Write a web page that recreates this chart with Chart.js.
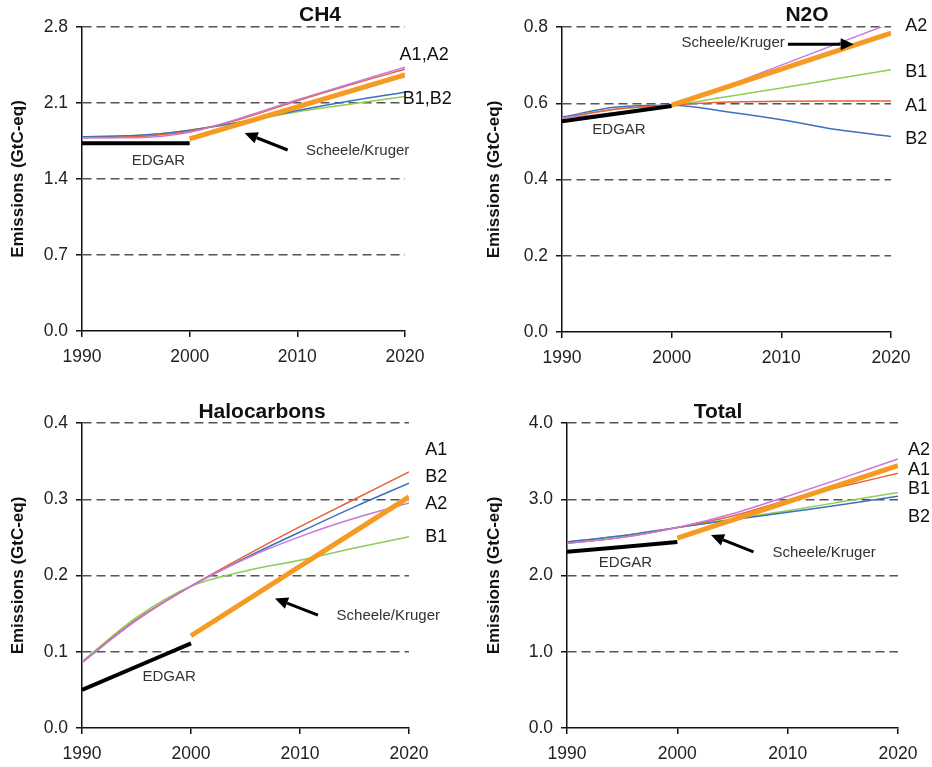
<!DOCTYPE html>
<html>
<head>
<meta charset="utf-8">
<script src="https://cdn.jsdelivr.net/npm/chart.js@4/dist/chart.umd.min.js"></script>
<style>
  body { margin: 0; background: #fff; }
  #wrap { position: relative; width: 932px; height: 767px; }
  canvas { position: absolute; }
</style>
</head>
<body>
<div id="wrap">
  <canvas id="ch4" width="466" height="380" style="left:0;top:0"></canvas>
  <canvas id="n2o" width="466" height="380" style="left:466px;top:0"></canvas>
  <canvas id="halo" width="466" height="387" style="left:0;top:380px"></canvas>
  <canvas id="total" width="466" height="387" style="left:466px;top:380px"></canvas>
</div>
<script>
// years shared by the scenario curves
const years = [1990, 1995, 2000, 2005, 2010, 2015, 2020];
const edgarYears = [1990, 2000];
const scheeleYears = [2000, 2020];
const xTicks = [1990, 2000, 2010, 2020];

// CH4
const ch4Ticks = [0, 0.7, 1.4, 2.1, 2.8];
const ch4A1 = [1.78, 1.79, 1.84, 1.96, 2.12, 2.27, 2.41];
const ch4A2 = [1.78, 1.78, 1.83, 1.97, 2.13, 2.28, 2.43];
const ch4B1 = [1.79, 1.80, 1.85, 1.93, 2.02, 2.09, 2.16];
const ch4B2 = [1.79, 1.80, 1.85, 1.93, 2.03, 2.12, 2.20];
const ch4Edgar = [1.73, 1.73];
const ch4Scheele = [1.77, 2.36];

// N2O
const n2oTicks = [0, 0.2, 0.4, 0.6, 0.8];
const n2oA1 = [0.561, 0.585, 0.595, 0.603, 0.605, 0.606, 0.606];
const n2oA2 = [0.561, 0.576, 0.595, 0.645, 0.700, 0.755, 0.810];
const n2oB1 = [0.561, 0.585, 0.595, 0.617, 0.640, 0.664, 0.688];
const n2oB2 = [0.564, 0.590, 0.595, 0.578, 0.557, 0.531, 0.513];
const n2oEdgar = [0.5525, 0.593];
const n2oScheele = [0.595, 0.784];

// Halocarbons
const haloTicks = [0, 0.1, 0.2, 0.3, 0.4];
const haloA1 = [0.086, 0.142, 0.186, 0.226, 0.264, 0.300, 0.336];
const haloA2 = [0.086, 0.141, 0.186, 0.222, 0.251, 0.275, 0.295];
const haloB1 = [0.087, 0.145, 0.186, 0.206, 0.220, 0.236, 0.251];
const haloB2 = [0.086, 0.142, 0.186, 0.223, 0.257, 0.290, 0.321];
const haloEdgar = [0.050, 0.111];
const haloScheele = [0.121, 0.303];

// Total
const totalTicks = [0, 1, 2, 3, 4];
const totalA1 = [2.42, 2.50, 2.63, 2.78, 2.99, 3.17, 3.34];
const totalA2 = [2.42, 2.50, 2.63, 2.81, 3.04, 3.28, 3.53];
const totalB1 = [2.44, 2.52, 2.63, 2.74, 2.85, 2.97, 3.09];
const totalB2 = [2.44, 2.52, 2.63, 2.73, 2.83, 2.93, 3.04];
const totalEdgar = [2.31, 2.44];
const totalScheele = [2.49, 3.44];

const FONT = 'Arial, "Liberation Sans", sans-serif';
const colors = { A1: '#e8603c', A2: '#c57ad8', B1: '#8fcd52', B2: '#3d6fc0', edgar: '#000', scheele: '#f59a23' };

const pts = (xs, ys) => xs.map((x, i) => ({ x: x, y: ys[i] }));

// draws panel title, the scenario / source labels and arrows
const notes = {
  id: 'notes',
  afterDatasetsDraw(chart, args, o) {
    const { ctx, scales: { x, y } } = chart;
    ctx.save();
    ctx.fillStyle = '#111';
    ctx.textBaseline = 'middle';
    ctx.textAlign = 'center';
    ctx.font = 'bold 21px ' + FONT;
    ctx.fillText(o.title[0], o.title[1], o.title[2]);
    o.labels.forEach(l => {
      ctx.font = l[3] + 'px ' + FONT;
      ctx.fillStyle = l[3] > 16 ? '#111' : '#333';
      ctx.textAlign = l[3] > 16 ? 'left' : 'center';
      ctx.fillText(l[0], x.getPixelForValue(l[1]), y.getPixelForValue(l[2]));
    });
    o.arrows.forEach(a => {
      const x1 = x.getPixelForValue(a[0]), y1 = y.getPixelForValue(a[1]);
      const x2 = x.getPixelForValue(a[2]), y2 = y.getPixelForValue(a[3]);
      const ang = Math.atan2(y2 - y1, x2 - x1);
      const hl = 13, hw = 6;
      const bx = x2 - hl * Math.cos(ang), by = y2 - hl * Math.sin(ang);
      ctx.strokeStyle = '#000';
      ctx.lineWidth = 3;
      ctx.beginPath(); ctx.moveTo(x1, y1); ctx.lineTo(bx, by); ctx.stroke();
      ctx.fillStyle = '#000';
      ctx.beginPath();
      ctx.moveTo(x2, y2);
      ctx.lineTo(bx + hw * Math.sin(ang), by - hw * Math.cos(ang));
      ctx.lineTo(bx - hw * Math.sin(ang), by + hw * Math.cos(ang));
      ctx.closePath(); ctx.fill();
    });
    ctx.restore();
  }
};

function line(data, color, w) {
  return { data: data, borderColor: color, backgroundColor: color, borderWidth: w,
           pointRadius: 0, cubicInterpolationMode: 'monotone', fill: false };
}

function makePanel(id, p) {
  new Chart(document.getElementById(id), {
    type: 'line',
    data: {
      datasets: [
        line(pts(scheeleYears, p.scheele), colors.scheele, 5),
        line(pts(edgarYears, p.edgar), colors.edgar, 4),
        line(pts(years, p.A2), colors.A2, 1.5),
        line(pts(years, p.A1), colors.A1, 1.5),
        line(pts(years, p.B2), colors.B2, 1.5),
        line(pts(years, p.B1), colors.B1, 1.5)
      ]
    },
    options: {
      responsive: false,
      animation: false,
      layout: { padding: { top: p.top, right: p.right, bottom: 0, left: 0 } },
      plugins: {
        legend: { display: false },
        tooltip: { enabled: false },
        notes: { title: p.title, labels: p.labels, arrows: p.arrows }
      },
      scales: {
        x: {
          type: 'linear', min: 1990, max: 2020,
          afterBuildTicks: s => { s.ticks = xTicks.map(v => ({ value: v })); },
          afterFit: s => { s.height = p.xh; },
          ticks: { callback: v => String(v), font: { family: FONT, size: 17.5 }, color: '#222', padding: 10, maxRotation: 0 },
          grid: { drawOnChartArea: false, drawTicks: true, tickLength: 6, color: '#111', lineWidth: 1.5 },
          border: { color: '#111', width: 1.5 }
        },
        y: {
          min: 0, max: p.ticks[p.ticks.length - 1],
          afterBuildTicks: s => { s.ticks = p.ticks.map(v => ({ value: v })); },
          afterFit: s => { s.width = p.yw; },
          ticks: { callback: v => v.toFixed(1), font: { family: FONT, size: 17.5 }, color: '#222', padding: 8 },
          grid: { color: c => c.tick && c.tick.value === 0 ? 'rgba(0,0,0,0)' : '#555', lineWidth: 1.5,
                  tickLength: 6, tickColor: '#111', tickWidth: 1.5, tickBorderDash: [] },
          border: { color: '#111', width: 1.5, dash: [9, 5] },
          title: { display: true, text: 'Emissions (GtC-eq)', color: '#111',
                   font: { family: FONT, size: 17, weight: 'bold' }, padding: { top: p.tp, bottom: 0 } }
        }
      }
    },
    plugins: [notes]
  });
}

makePanel('ch4', {
  A1: ch4A1, A2: ch4A2, B1: ch4B1, B2: ch4B2, edgar: ch4Edgar, scheele: ch4Scheele, ticks: ch4Ticks,
  top: 27, right: 61, xh: 49, yw: 82, tp: 8,
  title: ['CH4', 320, 15],
  labels: [['A1,A2', 2019.5, 2.54, 18], ['B1,B2', 2019.8, 2.14, 18],
           ['EDGAR', 1997.1, 1.566, 15], ['Scheele/Kruger', 2015.6, 1.66, 15]],
  arrows: [[2009.1, 1.667, 2005.1, 1.824]]
});

makePanel('n2o', {
  A1: n2oA1, A2: n2oA2, B1: n2oB1, B2: n2oB2, edgar: n2oEdgar, scheele: n2oScheele, ticks: n2oTicks,
  top: 27, right: 41, xh: 48, yw: 96, tp: 18,
  title: ['N2O', 341, 15],
  labels: [['A2', 2021.3, 0.803, 18], ['B1', 2021.3, 0.682, 18], ['A1', 2021.3, 0.593, 18], ['B2', 2021.3, 0.506, 18],
           ['EDGAR', 1995.2, 0.53, 15], ['Scheele/Kruger', 2005.6, 0.758, 15]],
  arrows: [[2010.6, 0.755, 2016.6, 0.755]]
});

makePanel('halo', {
  A1: haloA1, A2: haloA2, B1: haloB1, B2: haloB2, edgar: haloEdgar, scheele: haloScheele, ticks: haloTicks,
  top: 43, right: 57, xh: 39, yw: 82, tp: 8,
  title: ['Halocarbons', 262, 32],
  labels: [['A1', 2021.5, 0.3646, 18], ['B2', 2021.5, 0.329, 18], ['A2', 2021.5, 0.294, 18], ['B1', 2021.5, 0.2505, 18],
           ['EDGAR', 1998.0, 0.0669, 15], ['Scheele/Kruger', 2018.1, 0.147, 15]],
  arrows: [[2011.65, 0.148, 2007.7, 0.170]]
});

makePanel('total', {
  A1: totalA1, A2: totalA2, B1: totalB1, B2: totalB2, edgar: totalEdgar, scheele: totalScheele, ticks: totalTicks,
  top: 43, right: 34, xh: 39, yw: 101, tp: 18,
  title: ['Total', 252, 32],
  labels: [['A2', 2020.9, 3.646, 18], ['A1', 2020.9, 3.38, 18], ['B1', 2020.9, 3.13, 18], ['B2', 2020.9, 2.77, 18],
           ['EDGAR', 1995.3, 2.16, 15], ['Scheele/Kruger', 2013.3, 2.295, 15]],
  arrows: [[2006.9, 2.31, 2003.05, 2.53]]
});
</script>
</body>
</html>
